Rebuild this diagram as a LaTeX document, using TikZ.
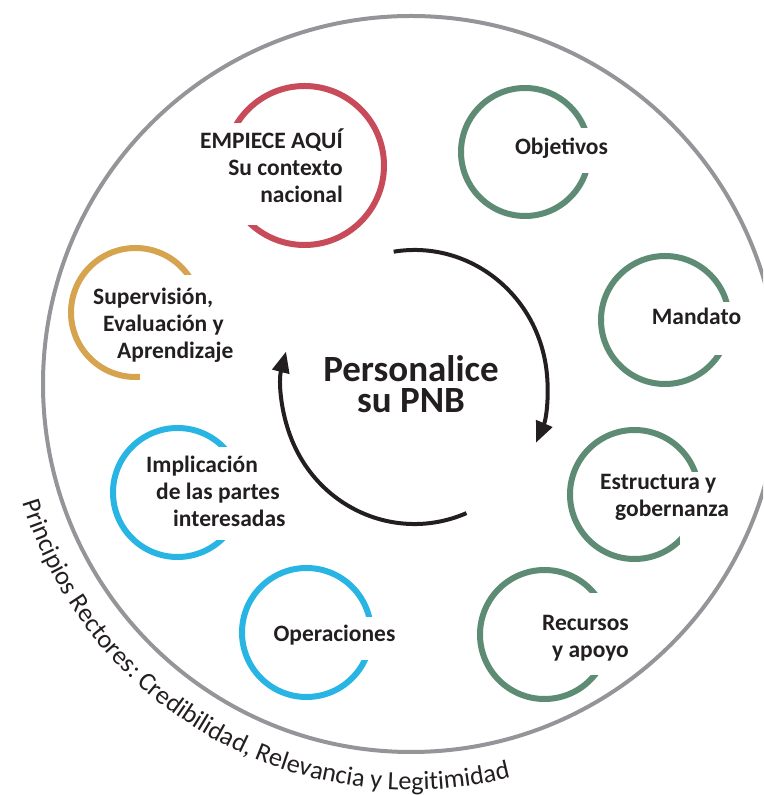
\documentclass[tikz,border=0pt]{standalone}
\usepackage{fontspec}
\setmainfont{Carlito}
\usetikzlibrary{arrows.meta,decorations.text}
\definecolor{ringgray}{HTML}{939598}
\definecolor{cred}{HTML}{C84B5A}
\definecolor{cgreen}{HTML}{5E8B74}
\definecolor{cblue}{HTML}{29B5E3}
\definecolor{cgold}{HTML}{D6A44F}
\definecolor{ink}{HTML}{231F20}
\tikzset{
  ring/.style={line width=6pt},
  gapcut/.style={fill=white, draw=none},
  lbl/.style={font=\bfseries\fontsize{23.5}{27}\selectfont, text=ink, inner sep=0pt},
  cycarrow/.style={draw=ink, line width=4pt, -{Triangle[length=21pt,width=17pt]}}
}
\begin{document}
\begin{tikzpicture}[x=1pt,y=1pt]
\useasboundingbox (0,0) rectangle (763,795);
\clip (0,0) rectangle (763,795);
% small circles with gaps
\draw[ring, cred] (304.5,629.5) circle[radius=79.5pt];
\path[gapcut] (205,570) rectangle (270,672);
\draw[ring, cgreen] (525,643) circle[radius=64pt];
\path[gapcut] (565,622) rectangle (600,667);
\draw[ring, cgreen] (665,475) circle[radius=64pt];
\path[gapcut] (700,440) rectangle (740,493);
\draw[ring, cgold] (135.5,482.5) circle[radius=64.5pt];
\path[gapcut] (140,400) rectangle (210,520);
\draw[ring, cblue] (177.5,302.5) circle[radius=64.5pt];
\path[gapcut] (212,255) rectangle (250,348);
\draw[ring, cgreen] (634.5,300.5) circle[radius=64.5pt];
\path[gapcut] (680,220) rectangle (710,323);
\draw[ring, cblue] (306.5,162.5) circle[radius=64.5pt];
\path[gapcut] (350,135) rectangle (380,178);
\draw[ring, cgreen] (544.5,160.5) circle[radius=64.5pt];
\path[gapcut] (585,120) rectangle (620,202);
% outer ring
\draw[ringgray, line width=4pt] (411,411) circle[radius=368pt];
% cycle arrows
\coordinate (cc) at (414.5,408);
\draw[cycarrow] (cc) ++(99:133pt and 137pt) arc[start angle=99, end angle=-24, x radius=133pt, y radius=137pt];
\draw[cycarrow] (cc) ++(-67:133pt and 137pt) arc[start angle=-67, end angle=-195, x radius=133pt, y radius=137pt];
% labels (base anchor = baseline of the last line)
\node[font=\bfseries\fontsize{37}{31}\selectfont, text=ink, inner sep=0pt, align=center, anchor=base] (center) at (411,382) {Personalice\\su PNB};
\node[lbl, align=right, anchor=base east] (start) at (343,592) {EMPIECE AQUÍ\\Su contexto\\nacional};
\node[lbl, anchor=base] (obj) at (561.5,640) {Objetivos};
\node[lbl, anchor=base] (mand) at (696.5,470) {Mandato};
\node[lbl, align=left, anchor=base west] (sup) at (93,436) {Supervisión,\\\hspace*{10pt}Evaluación y\\\hspace*{24pt}Aprendizaje};
\node[lbl, align=left, anchor=base west] (impl) at (146,268) {Implicación\\\hspace*{10pt}de las partes\\\hspace*{27pt}interesadas};
\node[lbl, align=left, anchor=base west] (estr) at (600,278) {Estructura y\\\hspace*{15pt}gobernanza};
\node[lbl, anchor=base] (oper) at (334.5,153) {Operaciones};
\node[lbl, align=right, anchor=base east] (rec) at (629,137) {Recursos\\y apoyo};
% guiding principles text along the ring
\path[decorate, decoration={text along path, text align=left,
  text={|\fontsize{26.2}{30}\selectfont\color{ink}|Principios Rectores: Credibilidad, Relevancia y Legitimidad}}]
  (411,411) ++(197:406pt) arc[start angle=197, end angle=295, radius=406pt];
\end{tikzpicture}
\end{document}
